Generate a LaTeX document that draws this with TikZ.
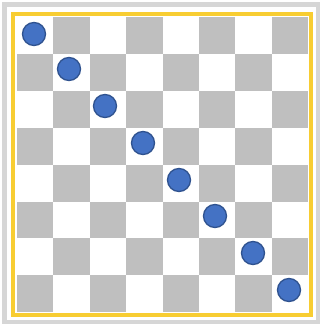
\documentclass[tikz,border=0pt]{standalone}
\usepackage{tikz}
\usepackage{xcolor}
\definecolor{framegray}{HTML}{D6D6D6}
\definecolor{cellgray}{HTML}{BFBFBF}
\definecolor{boardyellow}{HTML}{F8CD32}
\definecolor{pieceblue}{HTML}{4472C4}
\definecolor{pieceedge}{HTML}{2F528F}
\begin{document}
\begin{tikzpicture}[x=1pt,y=-1pt,
  piece/.style={circle,fill=pieceblue,draw=pieceedge,line width=1.3pt,minimum size=23pt,inner sep=0pt}]
\useasboundingbox (0,0) rectangle (321,325);
% Outer frame
\fill[framegray] (2,2) rectangle (320,324);
\fill[white] (7,7) rectangle (316,320);
\draw[boardyellow,line width=4.5pt] (13,14) rectangle (311,315);

% Board cells
\foreach \i in {0,...,7}
  \foreach \j in {0,...,7} {
    \pgfmathtruncatemacro{\odd}{mod(\i+\j,2)}
    \ifnum\odd=1
      \fill[cellgray] (17+36.4*\i,17+36.9*\j) rectangle (17+36.4*\i+36.4,17+36.9*\j+36.9);
    \fi
  }

% Pieces on the diagonal
\foreach \x/\y [count=\k] in {34/34,69/69,105/106,143/143,179/180,215/216,253/253,289/290}
  \node[piece] (q\k) at (\x,\y) {};
\end{tikzpicture}
\end{document}
